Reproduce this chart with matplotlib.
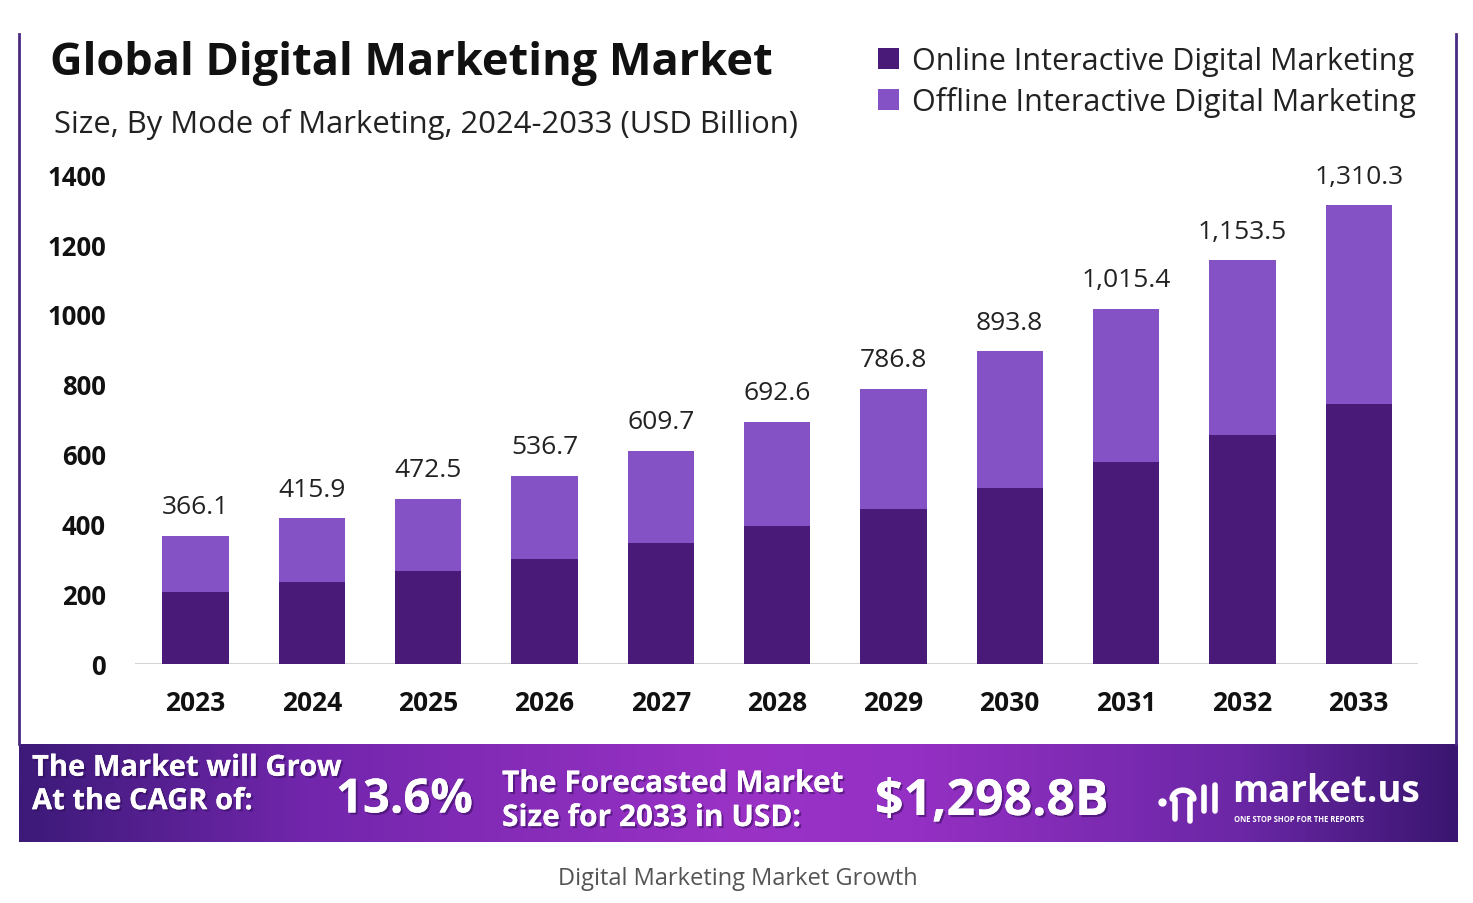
import numpy as np
import matplotlib
matplotlib.use("Agg")
import matplotlib.pyplot as plt
from matplotlib.colors import LinearSegmentedColormap
from matplotlib.lines import Line2D
import matplotlib.patheffects as pe

# data
years = ["2023", "2024", "2025", "2026", "2027", "2028", "2029", "2030", "2031", "2032", "2033"]
totals = [366.1, 415.9, 472.5, 536.7, 609.7, 692.6, 786.8, 893.8, 1015.4, 1153.5, 1310.3]
online = [206, 234, 266, 300, 346, 394, 443, 503, 577, 654, 743]
offline = [t - o for t, o in zip(totals, online)]
total_labels = ["366.1", "415.9", "472.5", "536.7", "609.7", "692.6", "786.8", "893.8",
                "1,015.4", "1,153.5", "1,310.3"]
yticks = [0, 200, 400, 600, 800, 1000, 1200, 1400]

dark = "#4a1a78"
light = "#8552c5"

plt.rcParams['font.family'] = ['Open Sans', 'DejaVu Sans']

W, H = 1473, 904
fig = plt.figure(figsize=(W / 100, H / 100), dpi=100)


def fx(px):
    return px / W


def fy(py):
    return 1 - py / H


# main chart
ax = fig.add_axes([fx(135), fy(665), fx(1418) - fx(135), fy(175) - fy(665)])
x = np.arange(len(years))
b1 = ax.bar(x, online, width=0.57, color=dark, label="Online Interactive Digital Marketing", zorder=3)
b2 = ax.bar(x, offline, width=0.57, bottom=online, color=light,
            label="Offline Interactive Digital Marketing", zorder=3)
for xi, t, lab in zip(x, totals, total_labels):
    ax.annotate(lab, (xi, t), xytext=(0, 12), textcoords="offset points",
                ha="center", va="bottom", fontsize=19, color="#222222", annotation_clip=False)

ax.set_xlim(-0.52, 10.51)
ax.set_ylim(0, 1400)
ax.set_yticks(yticks)
ax.set_yticklabels([str(v) for v in yticks], fontsize=18.5, fontweight="bold", color="#111111")
ax.set_xticks(x)
ax.set_xticklabels(years, fontsize=19, fontweight="bold", color="#111111")
ax.tick_params(axis="y", length=0, pad=21)
ax.tick_params(axis="x", length=0, pad=18)
for s in ax.spines.values():
    s.set_visible(False)
ax.axhline(0, color="#d4d4d4", lw=1.5, zorder=2)

# titles
fig.text(fx(50), fy(64), "Global Digital Marketing Market", fontsize=32.5, fontweight="bold",
         va="center", ha="left", color="#111111")
fig.text(fx(54), fy(124), "Size, By Mode of Marketing, 2024-2033 (USD Billion)", fontsize=22.3,
         va="center", ha="left", color="#222222")

fig.legend(handles=[b1, b2], loc="upper left", bbox_to_anchor=(fx(866), fy(35)),
           frameon=False, fontsize=22, handlelength=0.68, handleheight=0.68,
           handletextpad=0.42, labelspacing=0.33, borderaxespad=0, labelcolor="#222222")

# frame lines
fig.add_artist(Line2D([fx(19), fx(19)], [fy(35), fy(745)], color="#4b2a82", lw=2))
fig.add_artist(Line2D([fx(1456), fx(1456)], [fy(35), fy(745)], color="#4b2a82", lw=2))

# banner
bax = fig.add_axes([fx(19), fy(843), fx(1458) - fx(19), fy(745) - fy(843)])
cmap = LinearSegmentedColormap.from_list("banner", [
    (0.0, "#3c1a78"), (0.2, "#7226ac"), (0.5, "#9a32c6"), (0.62, "#9530c4"),
    (0.85, "#6b27a6"), (1.0, "#3a1670")])
grad = np.linspace(0, 1, 512).reshape(1, -1)
bax.imshow(grad, aspect="auto", cmap=cmap, extent=(0, 1, 0, 1))
bax.set_xlim(0, 1)
bax.set_ylim(0, 1)
bax.axis("off")

shadow = [pe.withSimplePatchShadow(offset=(1.5, -1.5), shadow_rgbFace="#2a0a50", alpha=0.5), pe.Normal()]
fig.text(fx(32), fy(786), "The Market will Grow\nAt the CAGR of:", fontsize=21, fontweight="bold",
         color="white", va="center", ha="left", linespacing=1.2, path_effects=shadow)
fig.text(fx(336), fy(801), "13.6%", fontsize=34, fontweight="bold", color="white",
         va="center", ha="left", path_effects=shadow)
fig.text(fx(502), fy(802), "The Forecasted Market\nSize for 2033 in USD:", fontsize=21.5,
         fontweight="bold", color="white", va="center", ha="left", linespacing=1.18,
         path_effects=shadow)
fig.text(fx(875), fy(803), "$1,298.8B", fontsize=36, fontweight="bold", color="white",
         va="center", ha="left", path_effects=shadow)

# logo
lx = lambda px: (px - 19) / (1458 - 19)
ly = lambda py: (843 - py) / (843 - 745)
bax.plot([lx(1162)], [ly(803)], "o", color="white", ms=5)
t = np.linspace(np.pi, 0, 40)
bax.plot(lx(1183) + 0.0075 * np.cos(t), ly(800) + 0.09 * np.sin(t), color="white", lw=4,
         solid_capstyle="round")
bax.plot([lx(1175), lx(1175)], [ly(800), ly(820)], color="white", lw=4, solid_capstyle="round")
bax.plot([lx(1190), lx(1190)], [ly(800), ly(822)], color="white", lw=4, solid_capstyle="round")
bax.plot([lx(1204), lx(1204)], [ly(788), ly(812)], color="white", lw=4, solid_capstyle="round")
bax.plot([lx(1215), lx(1215)], [ly(786), ly(812)], color="white", lw=4, solid_capstyle="round")
fig.text(fx(1232), fy(802), "market.us", fontsize=26.5, fontweight="bold", color="white",
         va="baseline", ha="left")
fig.text(fx(1234), fy(815), "ONE STOP SHOP FOR THE REPORTS", fontsize=5.5, fontweight="bold",
         color="white", va="top", ha="left")

# caption
fig.text(fx(738), fy(879), "Digital Marketing Market Growth", fontsize=17, color="#555555",
         va="center", ha="center")

fig.savefig("out.png", dpi=100)
